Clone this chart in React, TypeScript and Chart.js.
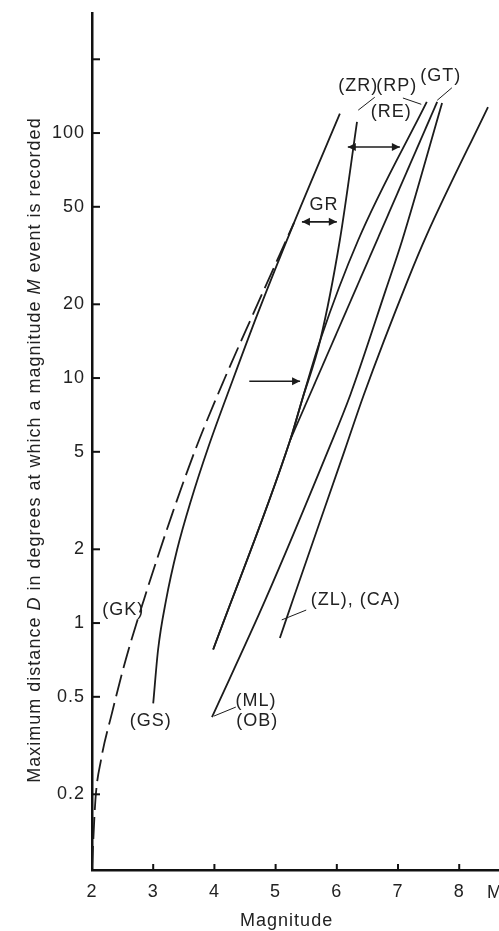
import React, { useEffect, useRef } from "react";
import { Chart, registerables } from "chart.js";

Chart.register(...registerables);

// ---- axis ticks ----
const X_TICKS = [2, 3, 4, 5, 6, 7, 8];
const X_TICK_LABELS = ["2", "3", "4", "5", "6", "7", "8"];
const Y_TICKS = [0.2, 0.5, 1, 2, 5, 10, 20, 50, 100, 200];
const Y_TICK_LABELS = ["0.2", "0.5", "1", "2", "5", "10", "20", "50", "100", ""];

// ---- curves (magnitude M, distance D in degrees) ----
const GK_M = [2.0, 2.056, 2.147, 2.327, 2.552, 2.846, 3.315, 3.704, 4.157, 4.639, 5.3];
const GK_D = [0.1, 0.19, 0.276, 0.43, 0.71, 1.24, 2.81, 5.22, 9.82, 18.4, 43.0];

const GS_M = [3.0, 3.08, 3.21, 3.39, 3.62, 3.9, 4.3, 4.71, 5.3, 6.05];
const GS_D = [0.47, 0.78, 1.24, 1.99, 3.18, 5.22, 9.82, 18.4, 43.0, 120];

const ZR_M = [3.98, 5.24, 5.43, 5.73, 6.05, 6.33];
const ZR_D = [0.78, 5.6, 8.1, 14.3, 36.6, 111];

const RP_M = [3.98, 5.24, 5.43, 5.73, 6.35, 7.47];
const RP_D = [0.78, 5.6, 8.1, 14.3, 36.6, 134];

const RE_M = [5.24, 7.64];
const RE_D = [5.6, 134];

const ML_M = [3.96, 4.83, 5.86, 6.22, 6.8, 7.07, 7.72];
const ML_D = [0.413, 1.24, 5.08, 8.53, 22.9, 36.6, 132.6];

const ZL_M = [5.07, 5.28, 6.13, 6.44, 7.16, 7.47, 8.47];
const ZL_D = [0.869, 1.24, 5.08, 8.53, 25.1, 38.4, 127.7];

// ---- annotations (data coordinates) ----
const LABEL_TEXT = ["(GK)", "(GS)", "(ML)", "(OB)", "(ZL), (CA)", "GR", "(RE)", "(ZR)", "(RP)", "(GT)"];
const LABEL_M = [2.51, 2.96, 4.68, 4.7, 6.31, 5.79, 6.89, 6.35, 6.98, 7.7];
const LABEL_D = [1.13, 0.4, 0.48, 0.4, 1.24, 50.8, 121.8, 155.5, 155.5, 171];

const LEADERS = [
  [6.62, 140, 6.35, 124],
  [7.08, 139, 7.38, 131],
  [7.88, 153, 7.64, 136],
  [3.99, 0.417, 4.35, 0.454],
  [5.1, 1.03, 5.5, 1.13],
];

const ARROWS = [
  { m1: 4.57, m2: 5.4, d: 9.7, both: false },
  { m1: 5.43, m2: 6.0, d: 43.4, both: true },
  { m1: 6.18, m2: 7.03, d: 87.7, both: true },
];

const Y_TITLE = [
  ["Maximum distance ", false],
  ["D", true],
  [" in degrees at which a magnitude ", false],
  ["M", true],
  [" event is recorded", false],
] as const;

const FAMILY = "'Liberation Sans', Arial, sans-serif";
const INK = "#1c1c1c";
const TEXT = "#222";

const pts = (ms: number[], ds: number[]) => ms.map((m, i) => ({ x: m, y: ds[i] }));

const annot = {
  id: "annot",
  beforeDraw(chart: any) {
    (chart.ctx as any).letterSpacing = "1px";
  },
  afterDraw(chart: any) {
    const ctx = chart.ctx;
    const xs = chart.scales.x;
    const ys = chart.scales.y;
    const area = chart.chartArea;
    const X = (m: number) => xs.getPixelForValue(m);
    const Y = (d: number) => ys.getPixelForValue(d);
    ctx.save();
    (ctx as any).letterSpacing = "1px";

    // inward tick marks
    ctx.strokeStyle = "#111";
    ctx.lineWidth = 2;
    Y_TICKS.forEach((v) => {
      const y = Y(v);
      ctx.beginPath();
      ctx.moveTo(area.left, y);
      ctx.lineTo(area.left + 8, y);
      ctx.stroke();
    });
    X_TICKS.slice(1).forEach((v) => {
      const x = X(v);
      ctx.beginPath();
      ctx.moveTo(x, area.bottom);
      ctx.lineTo(x, area.bottom - 6);
      ctx.stroke();
    });

    // labels
    ctx.font = `18px ${FAMILY}`;
    ctx.fillStyle = TEXT;
    ctx.textAlign = "center";
    ctx.textBaseline = "middle";
    LABEL_TEXT.forEach((t, i) => ctx.fillText(t, X(LABEL_M[i]), Y(LABEL_D[i])));

    // leader lines
    ctx.strokeStyle = INK;
    ctx.lineWidth = 1;
    LEADERS.forEach(([m1, d1, m2, d2]) => {
      ctx.beginPath();
      ctx.moveTo(X(m1), Y(d1));
      ctx.lineTo(X(m2), Y(d2));
      ctx.stroke();
    });

    // arrows
    ctx.lineWidth = 1.6;
    ctx.fillStyle = INK;
    const head = (x: number, y: number, dir: number) => {
      ctx.beginPath();
      ctx.moveTo(x, y);
      ctx.lineTo(x - dir * 8, y - 4);
      ctx.lineTo(x - dir * 8, y + 4);
      ctx.closePath();
      ctx.fill();
    };
    ARROWS.forEach((a) => {
      const x1 = X(a.m1), x2 = X(a.m2), y = Y(a.d);
      ctx.beginPath();
      ctx.moveTo(x1, y);
      ctx.lineTo(x2, y);
      ctx.stroke();
      head(x2, y, 1);
      if (a.both) head(x1, y, -1);
    });

    // x-axis extra label and title
    ctx.fillStyle = TEXT;
    ctx.font = `18px ${FAMILY}`;
    ctx.textAlign = "left";
    ctx.textBaseline = "alphabetic";
    ctx.fillText("M", X(8.55) - 6, 898);
    ctx.textAlign = "center";
    ctx.fillText("Magnitude", X(5.18), 926);

    // y-axis title with italic parts
    ctx.translate(35, 450);
    ctx.rotate(-Math.PI / 2);
    ctx.textAlign = "left";
    ctx.textBaseline = "middle";
    const fontFor = (it: boolean) => `${it ? "italic " : ""}18px ${FAMILY}`;
    let total = 0;
    Y_TITLE.forEach(([s, it]) => {
      ctx.font = fontFor(it);
      total += ctx.measureText(s).width;
    });
    let cx = -total / 2;
    Y_TITLE.forEach(([s, it]) => {
      ctx.font = fontFor(it);
      ctx.fillText(s, cx, 0);
      cx += ctx.measureText(s).width;
    });
    ctx.restore();
  },
};

export default function App() {
  const ref = useRef<HTMLCanvasElement | null>(null);
  useEffect(() => {
    if (!ref.current) return;
    const line = (data: any[], dashed = false) => ({
      data,
      borderColor: INK,
      borderWidth: 1.8,
      borderDash: dashed ? [22, 7] : [],
      pointRadius: 0,
      cubicInterpolationMode: "monotone",
      fill: false,
    });
    const chart = new Chart(ref.current, {
      type: "line",
      data: {
        datasets: [
          line(pts(GK_M, GK_D), true),
          line(pts(GS_M, GS_D)),
          line(pts(ZR_M, ZR_D)),
          line(pts(RP_M, RP_D)),
          line(pts(RE_M, RE_D)),
          line(pts(ML_M, ML_D)),
          line(pts(ZL_M, ZL_D)),
        ] as any,
      },
      options: {
        animation: false,
        responsive: false,
        devicePixelRatio: 1,
        layout: { padding: { top: 13, left: 0, right: 0, bottom: 0 } },
        plugins: { legend: { display: false }, tooltip: { enabled: false } },
        scales: {
          x: {
            type: "linear",
            min: 2,
            max: 8.65,
            bounds: "data",
            grid: { display: true, drawOnChartArea: false, drawTicks: false },
            border: { display: true, color: "#111", width: 2.5 },
            ticks: {
              autoSkip: false,
              maxRotation: 0,
              padding: 11,
              color: TEXT,
              font: { family: FAMILY, size: 18 },
              callback: (_v: any, i: number) => X_TICK_LABELS[i],
            },
            afterBuildTicks: (s: any) => {
              s.ticks = X_TICKS.map((v) => ({ value: v }));
            },
            afterFit: (s: any) => {
              s.height = 61;
              s.paddingLeft = 0;
              s.paddingRight = 0;
            },
          },
          y: {
            type: "logarithmic",
            min: 0.0982,
            max: 309,
            bounds: "data",
            grid: { display: true, drawOnChartArea: false, drawTicks: false },
            border: { display: true, color: "#111", width: 2.5 },
            ticks: {
              autoSkip: false,
              padding: 7,
              color: TEXT,
              font: { family: FAMILY, size: 18 },
              callback: (_v: any, i: number) => Y_TICK_LABELS[i],
            },
            afterBuildTicks: (s: any) => {
              s.ticks = Y_TICKS.map((v) => ({ value: v }));
            },
            afterFit: (s: any) => {
              s.width = 92;
              s.paddingTop = 0;
              s.paddingBottom = 0;
            },
          },
        },
      } as any,
      plugins: [annot],
    });
    return () => chart.destroy();
  }, []);
  return (
    <div style={{ position: "fixed", left: 0, top: 0, width: 499, height: 931, background: "#fff" }}>
      <canvas ref={ref} width={499} height={931} style={{ width: 499, height: 931, display: "block" }} />
    </div>
  );
}
